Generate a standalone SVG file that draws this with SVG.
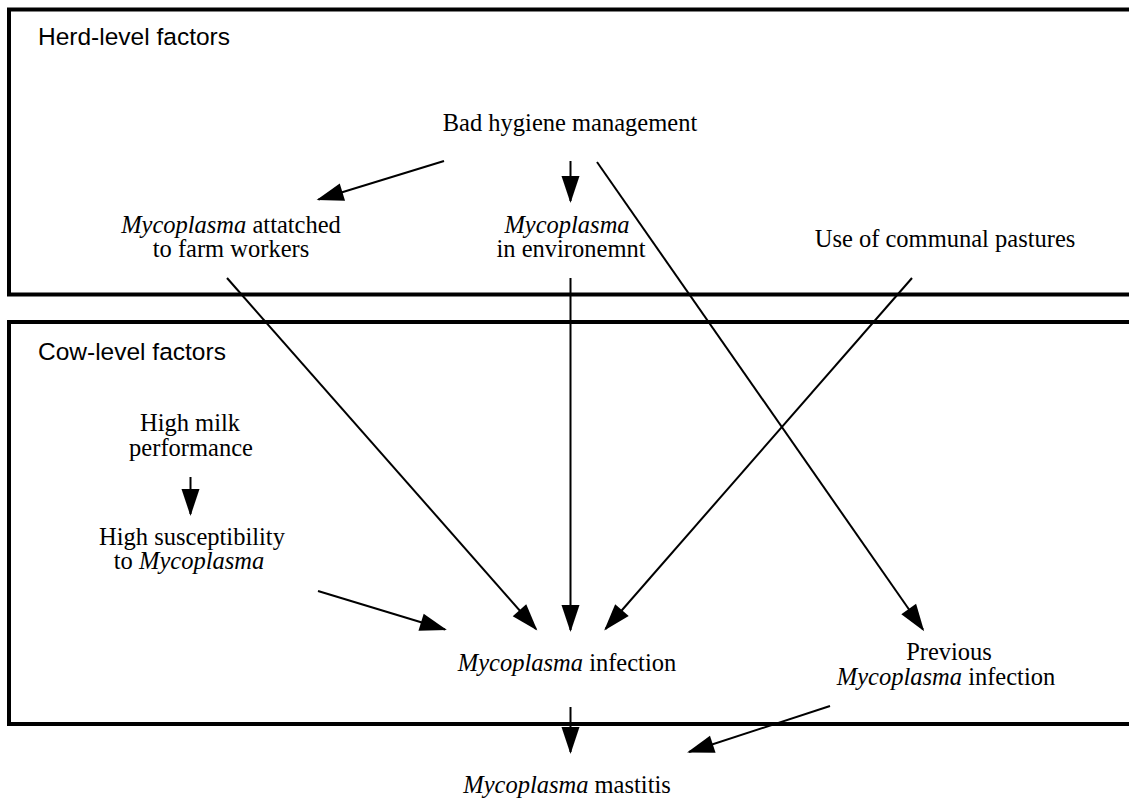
<svg xmlns="http://www.w3.org/2000/svg" width="1129" height="803" viewBox="0 0 1129 803">
<style>
.box{fill:none;stroke:#000;stroke-width:4}
.h{font-family:"Liberation Sans",Arial,sans-serif;font-size:24.5px;fill:#000}
.t{font-family:"Liberation Serif","Times New Roman",serif;font-size:24.5px;fill:#000;text-anchor:middle}
.i{font-style:italic}
.c{stroke:#000;stroke-width:2;fill:none;marker-end:url(#ah)}
</style>
<defs>
<marker id="ah" markerUnits="userSpaceOnUse" markerWidth="27" markerHeight="18" refX="25" refY="9" orient="auto" overflow="visible">
<path d="M0,0 L27,9 L0,18 Z" fill="#000"/>
</marker>
</defs>
<rect width="1129" height="803" fill="#fff"/>
<g id="herd-box">
<rect class="box" x="9" y="9.5" width="1140" height="285"/>
<text class="h" x="38" y="45">Herd-level factors</text>
</g>
<g id="cow-box">
<rect class="box" x="9" y="322" width="1140" height="402"/>
<text class="h" x="38" y="360">Cow-level factors</text>
</g>
<g id="bad-hygiene"><text class="t" x="570" y="131">Bad hygiene management</text></g>
<g id="attached"><text class="t" x="231" y="233"><tspan class="i">Mycoplasma</tspan> attatched</text><text class="t" x="231" y="257">to farm workers</text></g>
<g id="environment"><text class="t i" x="567" y="233">Mycoplasma</text><text class="t" x="571" y="257">in environemnt</text></g>
<g id="communal"><text class="t" x="945" y="247">Use of communal pastures</text></g>
<g id="milk"><text class="t" x="190" y="431">High milk</text><text class="t" x="191" y="456">performance</text></g>
<g id="susceptibility"><text class="t" x="192" y="545">High susceptibility</text><text class="t" x="189" y="569">to <tspan class="i">Mycoplasma</tspan></text></g>
<g id="infection"><text class="t" x="567" y="671"><tspan class="i">Mycoplasma</tspan> infection</text></g>
<g id="previous"><text class="t" x="949" y="660">Previous</text><text class="t" x="946" y="685"><tspan class="i">Mycoplasma</tspan> infection</text></g>
<g id="mastitis"><text class="t" x="567" y="793"><tspan class="i">Mycoplasma</tspan> mastitis</text></g>
<g id="connectors">
<line class="c" x1="444" y1="161" x2="318.5" y2="199.5"/>
<line class="c" x1="570.5" y1="161" x2="570.5" y2="201"/>
<line class="c" x1="597" y1="162" x2="923" y2="629.5"/>
<line class="c" x1="227" y1="278" x2="536" y2="629"/>
<line class="c" x1="570.5" y1="278" x2="570.5" y2="630"/>
<line class="c" x1="912" y1="278" x2="605.5" y2="629"/>
<line class="c" x1="318" y1="591" x2="445" y2="629.5"/>
<line class="c" x1="190.5" y1="477" x2="190.5" y2="514"/>
<line class="c" x1="570.5" y1="707" x2="570.5" y2="752"/>
<line class="c" x1="830" y1="706" x2="689" y2="752"/>
</g>
</svg>
